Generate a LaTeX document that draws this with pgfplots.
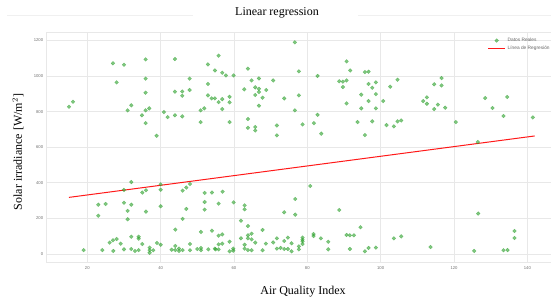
\documentclass[border=0pt]{standalone}
\usepackage{pgfplots}
\pgfplotsset{compat=1.18}
\usepackage{fontspec}
\setmainfont{Liberation Serif}
\newfontfamily\ticksf{Liberation Sans}
\definecolor{ptgreen}{RGB}{44,160,44}
\begin{document}
\begin{tikzpicture}
\begin{axis}[
  at={(0,0)}, anchor=south west,
  scale only axis, width=504.3pt, height=230.7pt,
  xmin=8.93, xmax=146.45, ymin=-48.9, ymax=1247,
  xtick={20,40,...,140}, ytick={0,200,...,1200},
  grid=major, grid style={gray!18, line width=0.8pt},
  axis line style={gray!18},
  major tick length=0pt,
  /pgf/number format/assume math mode=true,
  /pgf/number format/1000 sep={},
  tick label style={font=\ticksf\fontsize{4.2}{4.2}\selectfont, text=gray!90!black},
  legend style={at={(rel axis cs:0.868,0.992)}, anchor=north west, draw=none, fill=none,
    font=\ticksf\fontsize{4.8}{5.5}\selectfont, text=gray!80!black, row sep=-1.5pt},
  legend cell align=left,
]
\addplot[only marks, mark=*, mark size=1.9pt, color=ptgreen, fill opacity=0.6, draw opacity=0.45] coordinates {
(15,827) (16.1,855) (27,1071) (30,1063) (35.9,1093) (43.9,1095) (28,964) (35.9,985) (35.9,906) (43.9,912)
(32,835) (31,807) (35.9,807) (36.9,818) (34.9,779) (35.9,735) (38.9,664) (40.9,797) (41.9,769) (43.9,779)
(45.9,913) (45.9,889) (47.9,921) (47.9,985) (45.9,773) (50.9,807) (51.9,818) (50.9,741) (52.9,1065) (55.8,1114)
(54.8,1031) (56.8,1018) (57.8,1003) (59.9,1003) (52.9,955) (52.9,891) (53.9,874) (54.8,874) (55.8,853) (56.8,870)
(58.8,883) (58.8,852) (56.8,814) (58.8,741) (63.8,1041) (64.8,975) (66.8,986) (70.7,975) (62.8,925) (65.8,936)
(66.8,928) (66.8,910) (68.8,921) (65.8,893) (67.8,878) (66.8,833) (63.8,758) (63.8,709) (65.8,713) (65.8,694)
(71.7,722) (71.7,666) (73.7,874) (76.6,1189) (77.7,1026) (77.7,891) (76.6,807) (78.7,728)
(82.8,1000) (81.8,735) (82.8,782) (83.8,676) (90.7,1082) (91.7,1031) (88.7,970) (89.7,968) (90.7,975) (89.7,938)
(95.7,1022) (96.7,1024) (96.7,955) (98.7,964) (97.7,934) (94.7,895) (98.7,898) (90.7,846) (96.7,859) (100.7,859)
(94.7,818) (98.7,818) (102.6,940) (104.6,979) (93.7,741) (97.7,745) (95.7,668) (101.6,724) (103.6,717) (104.6,745)
(105.6,750) (111.6,859) (112.6,880) (112.6,844)
(114.6,953) (116.6,988) (116.6,947) (115.6,839) (114.6,814) (117.6,822) (120.5,741) (128.5,876) (134.5,882)
(130.5,820) (133.5,775) (141.5,767) (126.5,629)
(32,404) (30,360) (35,345) (36,358) (40,361) (40,391) (46,356) (47,373) (48,393) (52,343) (54,345)
(23,277) (25,281) (30,288) (32,277) (23,215) (31,242) (31,195) (36,238) (40,268) (52,292) (52,249) (47,253)
(46,197) (44,137) (51,124) (54,131)
(19,22) (24.1,22) (27.1,17) (26.1,64) (27,77) (28,84) (29.1,58) (30,26) (32,97) (32,28) (33,17) (34,97) (34,86)
(34,22) (35,56) (37,36) (37,22) (37,7) (38,21) (39,62) (40,52) (43,24) (44,45) (44,22) (45,30) (45,17) (46,22)
(48,56) (48,21) (51,21) (51,34) (53,26) (55,26) (50,28)
(56.9,350) (55.8,283) (59.9,290) (62.9,273) (62.9,251) (61.9,187) (63.8,157) (67.8,135) (73.7,234) (76.7,309)
(76.7,221) (80.8,382) (88.7,247) (94.5,150)
(55.8,103) (56.8,110) (55.8,54) (56.8,58) (54.8,30) (55.8,26) (58.8,69) (58.8,15) (59.8,30) (59.8,19)
(61.9,88) (62.9,52) (62.9,30) (63.8,105) (63.8,88) (64.8,114) (64.8,82) (63.8,22) (64.8,21) (65.8,64)
(67.8,21) (68.7,58) (70.7,65) (71.7,88) (71.7,30) (72.7,34) (73.7,73) (73.7,28) (74.7,92) (74.7,28)
(75.7,60) (75.7,15) (77.7,43) (77.7,26) (78.7,92) (78.7,80) (78.7,71) (78.7,56) (81.7,112) (81.7,101)
(83.7,88) (85.7,69) (85.7,26) (90.7,107) (91.6,105) (92.7,105) (91.6,28) (95.7,15) (96.7,34) (98.7,36)
(103.6,88) (105.6,99) (113.6,39) (126.6,227) (125.5,17) (133.5,21) (134.6,22) (136.5,129) (136.5,90)
};
\addlegendentry{Datos Reales}
\addplot[red, line width=1pt, opacity=0.9] coordinates {(15,318) (142,663)};
\addlegendentry{Línea de Regresión}
\end{axis}
\draw[gray!12, line width=0.6pt] (-39.7pt,247.7pt) -- (146.3pt,247.7pt);
\draw[gray!12, line width=0.6pt] (311.3pt,247.7pt) -- (504.3pt,247.7pt);
\node[font=\fontsize{12}{14}\selectfont] at (230.3pt,249.7pt) {Linear regression};
\node[font=\fontsize{12}{14}\selectfont, rotate=90] at (-28.7pt,110.7pt) {Solar irradiance [W/m$^2$]};
\node[font=\fontsize{12}{14}\selectfont] at (256.3pt,-29.3pt) {Air Quality Index};
\pgfresetboundingbox
\path[use as bounding box] (-46.7pt,-39.3pt) rectangle (504.3pt,262.7pt);
\end{tikzpicture}
\end{document}
